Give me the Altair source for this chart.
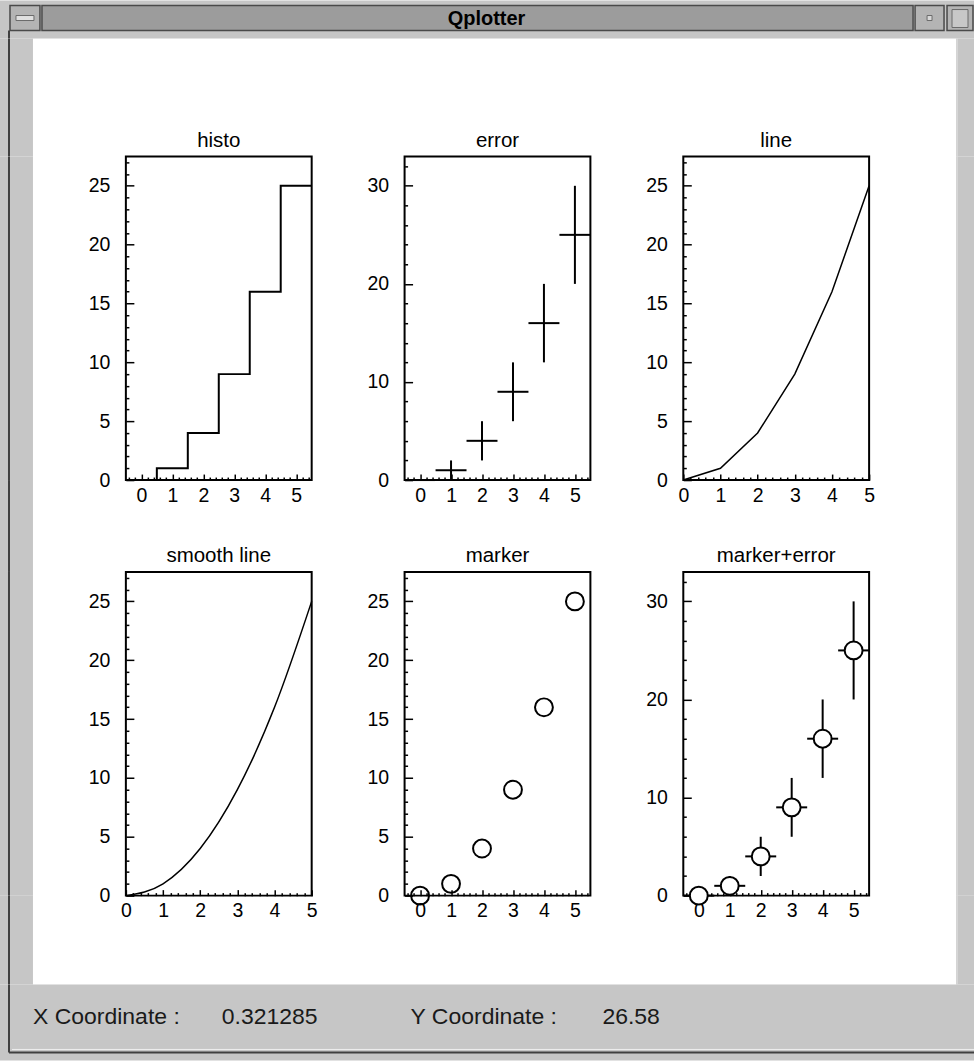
import altair as alt
import pandas as pd

FONT = "Liberation Sans"

# ---------------- data ----------------
x_vals = [0, 1, 2, 3, 4, 5]
y_vals = [0, 1, 4, 9, 16, 25]
y_err = [0, 1, 2, 3, 4, 5]
x_err = [0.5, 0.5, 0.5, 0.5, 0.5, 0.5]
hist_centers = [0, 1, 2, 3, 4, 5]
hist_counts = [0, 1, 4, 9, 16, 25]
panel_titles = ["histo", "error", "line", "smooth line", "marker", "marker+error"]
window_title = ["Qplotter"]
status_labels = ["X Coordinate :", "0.321285", "Y Coordinate :", "26.58"]
x_label_values = [0, 1, 2, 3, 4, 5]
y_labels_25 = [0, 5, 10, 15, 20, 25]
y_labels_30 = [0, 10, 20, 30]

df = pd.DataFrame({"x": x_vals, "y": y_vals, "ey": y_err, "ex": x_err})
hist_df = pd.DataFrame({
    "x": [c - 0.5 for c in hist_centers] + [hist_centers[-1] + 0.5],
    "y": hist_counts + [hist_counts[-1]],
})

PW, PH = 186, 324
LABEL_FS = 19.5
TITLE_FS = 20.5


def ticks_range(lo, hi, step):
    out, v = [], lo
    while v <= hi + 1e-9:
        out.append(round(v, 4))
        v += step
    return out


def lab_x_axis():
    return alt.Axis(values=x_label_values, orient="bottom", ticks=False, domain=False, grid=False,
                    labelFont=FONT, labelFontSize=LABEL_FS, labelColor="black", labelPadding=6,
                    title=None, format="d", labelFlush=False)


def lab_y_axis(vals):
    return alt.Axis(values=vals, orient="left", ticks=False, domain=False, grid=False,
                    labelFont=FONT, labelFontSize=LABEL_FS, labelColor="black", labelPadding=16,
                    title=None, format="d", labelFlush=False)


def tick_x_axis(vals):
    return alt.Axis(values=vals, orient="top", offset=-PH, labels=False, domain=False, grid=False,
                    ticks=True, tickColor="black", tickWidth=1.5, title=None,
                    tickSize={"condition": {"test": "abs(datum.value - round(datum.value)) < 0.001",
                                            "value": 6}, "value": 3})


def tick_y_axis(vals, major):
    return alt.Axis(values=vals, orient="right", offset=-PW, labels=False, domain=False, grid=False,
                    ticks=True, tickColor="black", tickWidth=1.5, title=None,
                    tickSize={"condition": {"test": f"abs(datum.value % {major}) < 0.001",
                                            "value": 8}, "value": 3})


def panel(title, layers, xdom, ydom, ylabs, yminor, ymajor):
    xs = alt.Scale(domain=xdom, nice=False, zero=False)
    ys = alt.Scale(domain=ydom, nice=False, zero=False)
    built = []
    for i, (mk, extra) in enumerate(layers):
        enc = dict(
            x=alt.X("x:Q", scale=xs, axis=lab_x_axis() if i == 0 else None),
            y=alt.Y("y:Q", scale=ys, axis=lab_y_axis(ylabs) if i == 0 else None),
        )
        enc.update(extra)
        built.append(mk.encode(**enc))
    xt = ticks_range(xdom[0] + 0.1 if xdom[0] < 0 else xdom[0], xdom[1], 0.2)
    yt = ticks_range(0, ydom[1], yminor)
    tick_layer = alt.Chart(df).mark_point(opacity=0, size=1).encode(
        x=alt.X("x:Q", scale=xs, axis=tick_x_axis(xt)),
        y=alt.Y("y:Q", scale=ys, axis=tick_y_axis(yt, ymajor)),
    )
    return alt.layer(*built, tick_layer).resolve_axis(x="independent", y="independent").properties(
        width=PW, height=PH,
        title=alt.TitleParams(title, font=FONT, fontSize=TITLE_FS, fontWeight="normal", color="black", offset=5),
        view=alt.ViewBackground(stroke="black", strokeWidth=2, fill="white"),
    )


base = alt.Chart(df)
err_v = base.mark_rule(color="black", strokeWidth=2).transform_calculate(
    lo="datum.y - datum.ey", hi="datum.y + datum.ey")
err_h = base.mark_rule(color="black", strokeWidth=2).transform_calculate(
    xl="datum.x - datum.ex", xr="datum.x + datum.ex")

XD = [-0.5, 5.5]
Y30 = alt.Scale(domain=[0, 33], nice=False, zero=False)
XS = alt.Scale(domain=XD, nice=False, zero=False)
MSIZE = 320

p_histo = panel(panel_titles[0], [
    (alt.Chart(hist_df).mark_line(interpolate="step-after", color="black", strokeWidth=2), {}),
], XD, [0, 27.5], y_labels_25, 1, 5)

p_error = panel(panel_titles[1], [
    (err_v, {"y": alt.Y("lo:Q", scale=Y30, axis=lab_y_axis(y_labels_30)), "y2": alt.Y2("hi:Q")}),
    (err_h, {"x": alt.X("xl:Q", scale=XS, axis=None), "x2": alt.X2("xr:Q")}),
], XD, [0, 33], y_labels_30, 2, 10)

p_line = panel(panel_titles[2], [
    (base.mark_line(color="black", strokeWidth=1.5), {}),
], [0, 5], [0, 27.5], y_labels_25, 1, 5)

p_smooth = panel(panel_titles[3], [
    (base.mark_line(color="black", strokeWidth=1.5, interpolate="monotone"), {}),
], [0, 5], [0, 27.5], y_labels_25, 1, 5)

p_marker = panel(panel_titles[4], [
    (base.mark_point(shape="circle", filled=False, size=MSIZE, color="black", strokeWidth=2, opacity=1), {}),
], XD, [0, 27.5], y_labels_25, 1, 5)

p_me = panel(panel_titles[5], [
    (err_v, {"y": alt.Y("lo:Q", scale=Y30, axis=lab_y_axis(y_labels_30)), "y2": alt.Y2("hi:Q")}),
    (err_h, {"x": alt.X("xl:Q", scale=XS, axis=None), "x2": alt.X2("xr:Q")}),
    (base.mark_point(shape="circle", filled=True, fill="white", stroke="black", size=MSIZE,
                     strokeWidth=2, opacity=1), {}),
], XD, [0, 33], y_labels_30, 2, 10)

# ------------- window chrome -------------
one = pd.DataFrame({"a": [0]})
GRAY = "#c6c6c6"
tb = alt.Chart(one)
tdf = pd.DataFrame({"t": window_title})
sdf = pd.DataFrame({"t": status_labels, "px": [33, 222, 411, 603]})

TITLE_H, STATUS_H = 38, 76

titlebar = alt.layer(
    tb.mark_rect(fill=GRAY).encode(
        x=alt.value(0), x2=alt.value(975), y=alt.value(0), y2=alt.value(TITLE_H)),
    tb.mark_rect(fill="#9c9c9c", stroke="#4a4a4a", strokeWidth=1.5).encode(
        x=alt.value(42), x2=alt.value(914), y=alt.value(5), y2=alt.value(30)),
    tb.mark_rect(fill="#b4b4b4", stroke="#4a4a4a", strokeWidth=1.5).encode(
        x=alt.value(10), x2=alt.value(40), y=alt.value(5), y2=alt.value(30)),
    tb.mark_rect(fill="#e0e0e0", stroke="#6a6a6a", strokeWidth=1).encode(
        x=alt.value(16), x2=alt.value(34), y=alt.value(15), y2=alt.value(20)),
    tb.mark_rect(fill="#b4b4b4", stroke="#4a4a4a", strokeWidth=1.5).encode(
        x=alt.value(916), x2=alt.value(945), y=alt.value(5), y2=alt.value(30)),
    tb.mark_rect(fill="#d8d8d8", stroke="#6a6a6a", strokeWidth=1).encode(
        x=alt.value(928), x2=alt.value(933), y=alt.value(15), y2=alt.value(20)),
    tb.mark_rect(fill="#b4b4b4", stroke="#4a4a4a", strokeWidth=1.5).encode(
        x=alt.value(948), x2=alt.value(974), y=alt.value(5), y2=alt.value(30)),
    tb.mark_rect(fill="#c8c8c8", stroke="#6a6a6a", strokeWidth=1).encode(
        x=alt.value(953), x2=alt.value(969), y=alt.value(9), y2=alt.value(27)),
    tb.mark_rule(color="#404040", strokeWidth=2).encode(
        x=alt.value(9), y=alt.value(30), y2=alt.value(TITLE_H)),
    alt.Chart(tdf).mark_text(font=FONT, fontSize=20, fontWeight="bold", color="black",
                             baseline="middle", align="center").encode(
        text="t:N", x=alt.value(487), y=alt.value(18)),
).properties(width=33, height=TITLE_H, view=alt.ViewBackground(fill="transparent", stroke="transparent"))

statusbar = alt.layer(
    tb.mark_rect(fill=GRAY).encode(
        x=alt.value(0), x2=alt.value(975), y=alt.value(0), y2=alt.value(STATUS_H)),
    tb.mark_rule(color="#404040", strokeWidth=2).encode(
        x=alt.value(9), y=alt.value(0), y2=alt.value(68)),
    tb.mark_rule(color="#404040", strokeWidth=2).encode(
        x=alt.value(9), x2=alt.value(975), y=alt.value(68)),
    tb.mark_rule(color="#eeeeee", strokeWidth=1).encode(
        x=alt.value(12), x2=alt.value(975), y=alt.value(65)),
    alt.Chart(sdf).mark_text(font=FONT, fontSize=23, color="#1a1a1a", baseline="middle", align="left").encode(
        text="t:N", x=alt.X("px:Q", scale=None), y=alt.value(33)),
).properties(width=33, height=STATUS_H, view=alt.ViewBackground(fill="transparent", stroke="transparent"))

# ------------- layout grid (flush, unit/layer children only) -------------
col_w = [33, 93, PW, 93, PW, 93, PW, 87, 18]
row_h = [TITLE_H, 118, PH, 92, PH, 89, STATUS_H]
panels = {(2, 2): p_histo, (2, 4): p_error, (2, 6): p_line,
          (4, 2): p_smooth, (4, 4): p_marker, (4, 6): p_me,
          (0, 0): titlebar, (len(row_h) - 1, 0): statusbar}


def spacer(w, h):
    return alt.Chart(one).mark_point(opacity=0, size=1).encode(
        x=alt.value(w / 2), y=alt.value(h / 2)).properties(
        width=w, height=h, view=alt.ViewBackground(stroke="transparent", fill="transparent"))


def left_piece(h):
    return alt.Chart(one).mark_rule(color="#404040", strokeWidth=2).encode(
        x=alt.value(9), y=alt.value(0), y2=alt.value(h)).properties(
        width=33, height=h, view=alt.ViewBackground(fill=GRAY, stroke="transparent"))


def right_piece(h):
    return alt.Chart(one).mark_rule(color="#e6e6e6", strokeWidth=1).encode(
        x=alt.value(1), y=alt.value(0), y2=alt.value(h)).properties(
        width=18, height=h, view=alt.ViewBackground(fill=GRAY, stroke="transparent"))


cells = []
for r, h in enumerate(row_h):
    for c, w in enumerate(col_w):
        if (r, c) in panels:
            cells.append(panels[(r, c)])
        elif r in (0, len(row_h) - 1):
            cells.append(spacer(w, h))
        elif c == 0:
            cells.append(left_piece(h))
        elif c == len(col_w) - 1:
            cells.append(right_piece(h))
        else:
            cells.append(spacer(w, h))

chart = alt.concat(*cells, columns=len(col_w), spacing=0, bounds="flush", align="each").properties(
    padding=0, background="white"
).configure_view(strokeWidth=0)

chart.save("out.html", embed_options={"renderer": "svg", "actions": False})
